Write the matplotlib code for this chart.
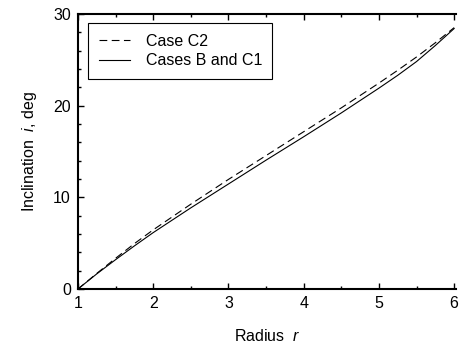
import matplotlib
matplotlib.use("Agg")
import matplotlib.pyplot as plt
from matplotlib.ticker import MultipleLocator

plt.rcParams['font.family'] = ['Liberation Sans', 'DejaVu Sans']
plt.rcParams['mathtext.fontset'] = 'custom'
plt.rcParams['mathtext.rm'] = 'Liberation Sans'
plt.rcParams['mathtext.it'] = 'Liberation Sans:italic'

radius = [1.0, 1.25, 1.5, 1.75, 2.0, 2.5, 3.0, 3.5, 4.0, 4.5, 5.0, 5.25, 5.5, 5.75, 6.0]
incl_c2 = [0.0, 1.7, 3.35, 4.95, 6.45, 9.25, 11.95, 14.55, 17.15, 19.75, 22.45, 23.85, 25.3, 26.85, 28.5]
incl_b_c1 = [0.0, 1.65, 3.2, 4.7, 6.15, 8.85, 11.45, 14.05, 16.6, 19.2, 21.9, 23.3, 24.8, 26.55, 28.4]

fig = plt.figure(figsize=(4.61, 3.47), dpi=100)
ax = fig.add_axes([0.169, 0.167, 0.821, 0.793])

ax.plot(radius, incl_c2, color='black', lw=0.8, linestyle=(0, (7, 4)), label='Case C2')
ax.plot(radius, incl_b_c1, color='black', lw=0.8, label='Cases B and C1')

ax.set_xlim(1, 6.03)
ax.set_ylim(0, 30)
ax.xaxis.set_major_locator(MultipleLocator(1))
ax.xaxis.set_minor_locator(MultipleLocator(0.5))
ax.yaxis.set_major_locator(MultipleLocator(10))
ax.yaxis.set_minor_locator(MultipleLocator(2))
ax.tick_params(which='both', direction='in', top=True, right=False, labelsize=11.5, width=1)
ax.tick_params(which='major', length=4, pad=5)
ax.tick_params(which='minor', length=2.5)
for s in ['left', 'bottom', 'top']:
    ax.spines[s].set_linewidth(1.5)
ax.spines['right'].set_visible(False)

ax.set_xlabel(r'Radius  $r$', fontsize=11.5, labelpad=12)
ax.set_ylabel(r'Inclination  $i$, deg', fontsize=11.5, labelpad=10)

leg = ax.legend(loc='upper left', bbox_to_anchor=(0.006, 0.995), fontsize=11.5, fancybox=False,
                edgecolor='black', framealpha=1, handlelength=2.0, borderpad=0.65, labelspacing=0.3,
                handletextpad=0.95, borderaxespad=0.5)
leg.get_frame().set_linewidth(0.8)

fig.savefig('out.png', dpi=100)
